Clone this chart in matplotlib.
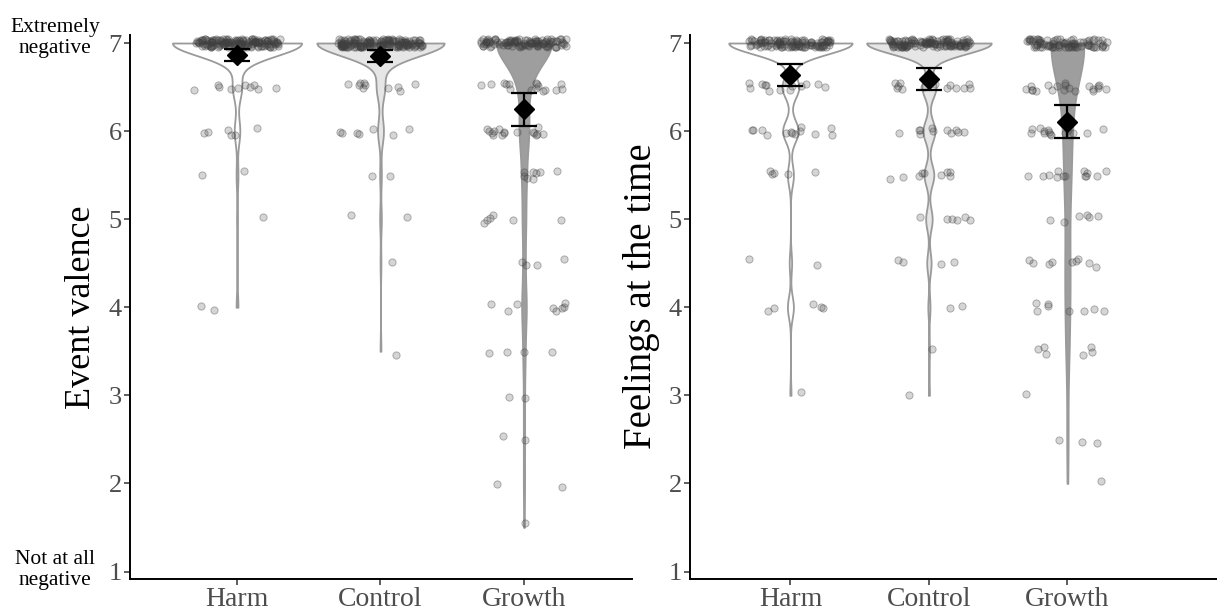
import matplotlib
matplotlib.use("Agg")
import matplotlib.pyplot as plt
import numpy as np

plt.rcParams["font.family"] = ["Liberation Serif", "DejaVu Serif"]

# response scale (1 = not at all negative, 7 = extremely negative)
levels = np.array([1.0, 1.5, 2.0, 2.5, 3.0, 3.5, 4.0, 4.5, 5.0, 5.5, 6.0, 6.5, 7.0])
groups = ["Harm", "Control", "Growth"]

# number of participants giving each response, per condition
valence_harm = [0, 0, 0, 0, 0, 0, 2, 0, 1, 2, 6, 10, 140]
valence_control = [0, 0, 0, 0, 0, 1, 0, 1, 2, 2, 7, 10, 152]
valence_growth = [0, 1, 2, 2, 2, 4, 8, 4, 6, 8, 16, 16, 102]

feelings_harm = [0, 0, 0, 0, 1, 0, 5, 2, 0, 5, 13, 14, 103]
feelings_control = [0, 0, 0, 0, 1, 1, 2, 4, 6, 9, 11, 13, 115]
feelings_growth = [0, 0, 1, 3, 1, 6, 8, 9, 6, 13, 14, 20, 82]

fills = ["white", "#e6e6e6", "#9e9e9e"]
edge = "#9a9a9a"


def bw_nrd0(x):
    hi = np.std(x, ddof=1)
    q75, q25 = np.percentile(x, [75, 25])
    lo = min(hi, (q75 - q25) / 1.34)
    if not lo:
        lo = hi or abs(x[0]) or 1.0
    return 0.9 * lo * len(x) ** -0.2


def density(x, n=512):
    bw = bw_nrd0(x)
    grid = np.linspace(x.min(), x.max(), n)
    z = (grid[:, None] - x[None, :]) / bw
    d = np.exp(-0.5 * z ** 2).sum(axis=1) / (len(x) * bw * np.sqrt(2 * np.pi))
    return grid, d


def violin_panel(ax, counts_list, seed):
    rng = np.random.default_rng(seed)
    data = [np.repeat(levels, c) for c in counts_list]
    dens = [density(x) for x in data]
    dmax = max(d.max() for _, d in dens)

    for i, (x, (grid, d)) in enumerate(zip(data, dens)):
        pos = i + 1
        hw = 0.45 * d / dmax
        ax.fill_betweenx(grid, pos - hw, pos + hw, facecolor=fills[i],
                         edgecolor=edge, linewidth=1.3, zorder=1)

        # jittered raw responses
        jx = pos + rng.uniform(-0.3, 0.3, len(x))
        jy = x + rng.uniform(-0.05, 0.05, len(x))
        ax.scatter(jx, jy, s=27, facecolor=(0.25, 0.25, 0.25, 0.22),
                   edgecolor=(0.25, 0.25, 0.25, 0.38), linewidths=0.7, zorder=2)

        # mean with 95% CI
        m = x.mean()
        ci = 1.97 * x.std(ddof=1) / np.sqrt(len(x))
        ax.errorbar(pos, m, yerr=ci, fmt="none", ecolor="black",
                    elinewidth=1.6, capsize=9.7, capthick=1.6, zorder=3)
        ax.plot(pos, m, marker="D", markersize=10, color="black", zorder=4)

    ax.set_ylim(0.915, 7.091)
    ax.set_yticks(range(1, 8))
    ax.set_xticks([1, 2, 3])
    ax.set_xticklabels(groups)
    for s in ["top", "right"]:
        ax.spines[s].set_visible(False)
    for s in ["left", "bottom"]:
        ax.spines[s].set_linewidth(1.4)
        ax.spines[s].set_color("black")
    ax.tick_params(axis="both", length=4, width=1.1, color="#333333",
                   labelcolor="#4d4d4d", pad=2)
    ax.tick_params(axis="y", labelsize=19)
    ax.tick_params(axis="x", labelsize=20)


fig = plt.figure(figsize=(12.17, 6.14), dpi=100)

ax1 = fig.add_axes([130 / 1217, 35 / 614, 502 / 1217, 544 / 614])
violin_panel(ax1, [valence_harm, valence_control, valence_growth], 3)
ax1.set_xlim(0.254, 3.753)

ax2 = fig.add_axes([690 / 1217, 35 / 614, 527 / 1217, 544 / 614])
violin_panel(ax2, [feelings_harm, feelings_control, feelings_growth], 7)
ax2.set_xlim(0.275, 4.08)

fig.text(81 / 1217, 1 - 307 / 614, "Event valence", rotation=90,
         ha="center", va="center", fontsize=26)
fig.text(641 / 1217, 1 - 296 / 614, "Feelings at the time", rotation=90,
         ha="center", va="center", fontsize=28)

fig.text(55 / 1217, 1 - 38 / 614, "Extremely\nnegative", ha="center",
         va="center", multialignment="center", fontsize=15.5)
fig.text(55 / 1217, 1 - 570 / 614, "Not at all\nnegative", ha="center",
         va="center", multialignment="center", fontsize=15.5)

fig.savefig("out.png", dpi=100)
